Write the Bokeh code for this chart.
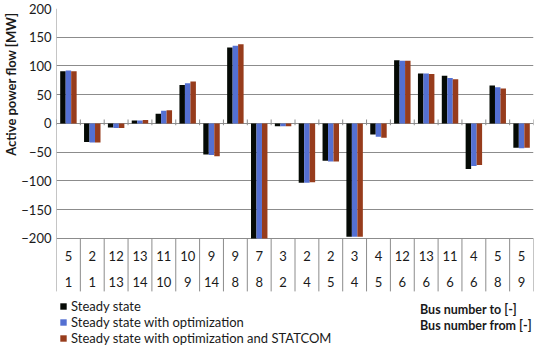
import math
from bokeh.plotting import figure
from bokeh.models import (ColumnDataSource, Range1d, FixedTicker, Legend, LegendItem, Label, Title)
from bokeh.core.properties import value
from bokeh.embed import file_html
from bokeh.resources import INLINE

bus_to = ["5", "2", "12", "13", "11", "10", "9", "9", "7", "3", "2", "2", "3", "4", "12", "13", "11", "4", "5", "5"]
bus_from = ["1", "1", "13", "14", "10", "9", "14", "8", "8", "2", "4", "5", "4", "5", "6", "6", "6", "6", "8", "9"]
steady = [91, -32, -7, 5, 17, 67, -54, 132, -200, -5, -103, -65, -197, -19, 110, 87, 83, -79, 66, -42]
steady_opt = [92, -33, -8, 5, 22, 70, -55, 135, -200, -5, -103, -66, -197, -23, 109, 87, 79, -74, 63, -43]
steady_opt_statcom = [91, -33, -8, 6, 23, 73, -57, 138, -200, -5, -102, -66, -197, -25, 109, 86, 77, -72, 61, -42]
series_names = ["Steady state", "Steady state with optimization", "Steady state with optimization and STATCOM"]
y_ticks = [-200, -150, -100, -50, 0, 50, 100, 150, 200]

FONT = "Lato"
TXT = "#1a1a1a"
GRID = "#8c8c8c"
colors = ["#050a05", "#5470d2", "#973c1c"]

n = len(bus_to)
idx = list(range(1, n + 1))

p = figure(width=534, height=345, output_backend="svg", toolbar_location=None,
           x_axis_location=None, y_axis_location="left",
           x_range=Range1d(0.5, 20.5), y_range=Range1d(-386.1, 200),
           min_border_left=10, min_border_right=1, min_border_top=8, min_border_bottom=0)
p.outline_line_color = None
p.xgrid.visible = False
p.ygrid.ticker = FixedTicker(ticks=y_ticks)
p.ygrid.grid_line_color = GRID
p.ygrid.grid_line_width = 1

ax = p.yaxis[0]
ax.ticker = FixedTicker(ticks=y_ticks)
ax.axis_line_color = None
ax.major_tick_line_color = None
ax.minor_tick_line_color = None
ax.major_tick_out = 0
ax.major_tick_in = 0
ax.minor_tick_out = 0
ax.minor_tick_in = 0
ax.major_label_standoff = 5
ax.major_label_text_font = FONT
ax.major_label_text_font_size = "13px"
ax.major_label_text_color = TXT

ytitle = Title(text="Active power flow [MW]", align="right", standoff=0,
               text_font=FONT, text_font_size="13px", text_font_style="bold",
               text_color=TXT, offset=4)
p.add_layout(ytitle, "left")

w = 0.23
offsets = [-w, 0, w]
renderers = []
for vals, off, col in zip([steady, steady_opt, steady_opt_statcom], offsets, colors):
    src = ColumnDataSource(dict(x=[i + off for i in idx], top=vals))
    r = p.vbar(x="x", top="top", bottom=0, width=w, source=src,
               fill_color=col, line_color=None)
    renderers.append(r)

# category table separators and left border
bounds = [i + 0.5 for i in range(0, n + 1)]
p.segment(x0=bounds, y0=[-200] * len(bounds), x1=bounds, y1=[-292] * len(bounds),
          line_color=GRID, line_width=1)
p.segment(x0=[0.5], y0=[200], x1=[0.5], y1=[-200], line_color=GRID, line_width=1)
# ticks on zero line
p.segment(x0=bounds, y0=[-3] * len(bounds), x1=bounds, y1=[7] * len(bounds),
          line_color=GRID, line_width=1)

tsrc = ColumnDataSource(dict(x=idx, to=bus_to, fr=bus_from,
                             y1=[-231.3] * n, y2=[-276.5] * n))
p.text(x="x", y="y1", text="to", source=tsrc, text_font=value(FONT), text_font_size="13px",
       text_color=TXT, text_align="center", text_baseline="middle")
p.text(x="x", y="y2", text="fr", source=tsrc, text_font=value(FONT), text_font_size="13px",
       text_color=TXT, text_align="center", text_baseline="middle")

legend = Legend(items=[LegendItem(label=nm, renderers=[r]) for nm, r in zip(series_names, renderers)],
                location=(3, -1), orientation="vertical")
legend.padding = 0
legend.spacing = 0
legend.margin = 0
legend.label_height = 16
legend.glyph_height = 8
legend.glyph_width = 8
legend.label_standoff = 4
legend.label_text_font = FONT
legend.label_text_font_size = "13px"
legend.label_text_color = TXT
legend.border_line_color = None
legend.background_fill_alpha = 0
p.add_layout(legend)

p.add_layout(Label(x=15.74, y=-323.5, text="Bus number to [-]", text_font=FONT,
                   text_font_size="12.5px", text_font_style="bold", text_color=TXT,
                   text_baseline="middle", text_align="left"))
p.add_layout(Label(x=15.74, y=-351.3, text="Bus number from [-]", text_font=FONT,
                   text_font_size="12.5px", text_font_style="bold", text_color=TXT,
                   text_baseline="middle", text_align="left"))

open("out.html", "w").write(file_html(p, INLINE))
